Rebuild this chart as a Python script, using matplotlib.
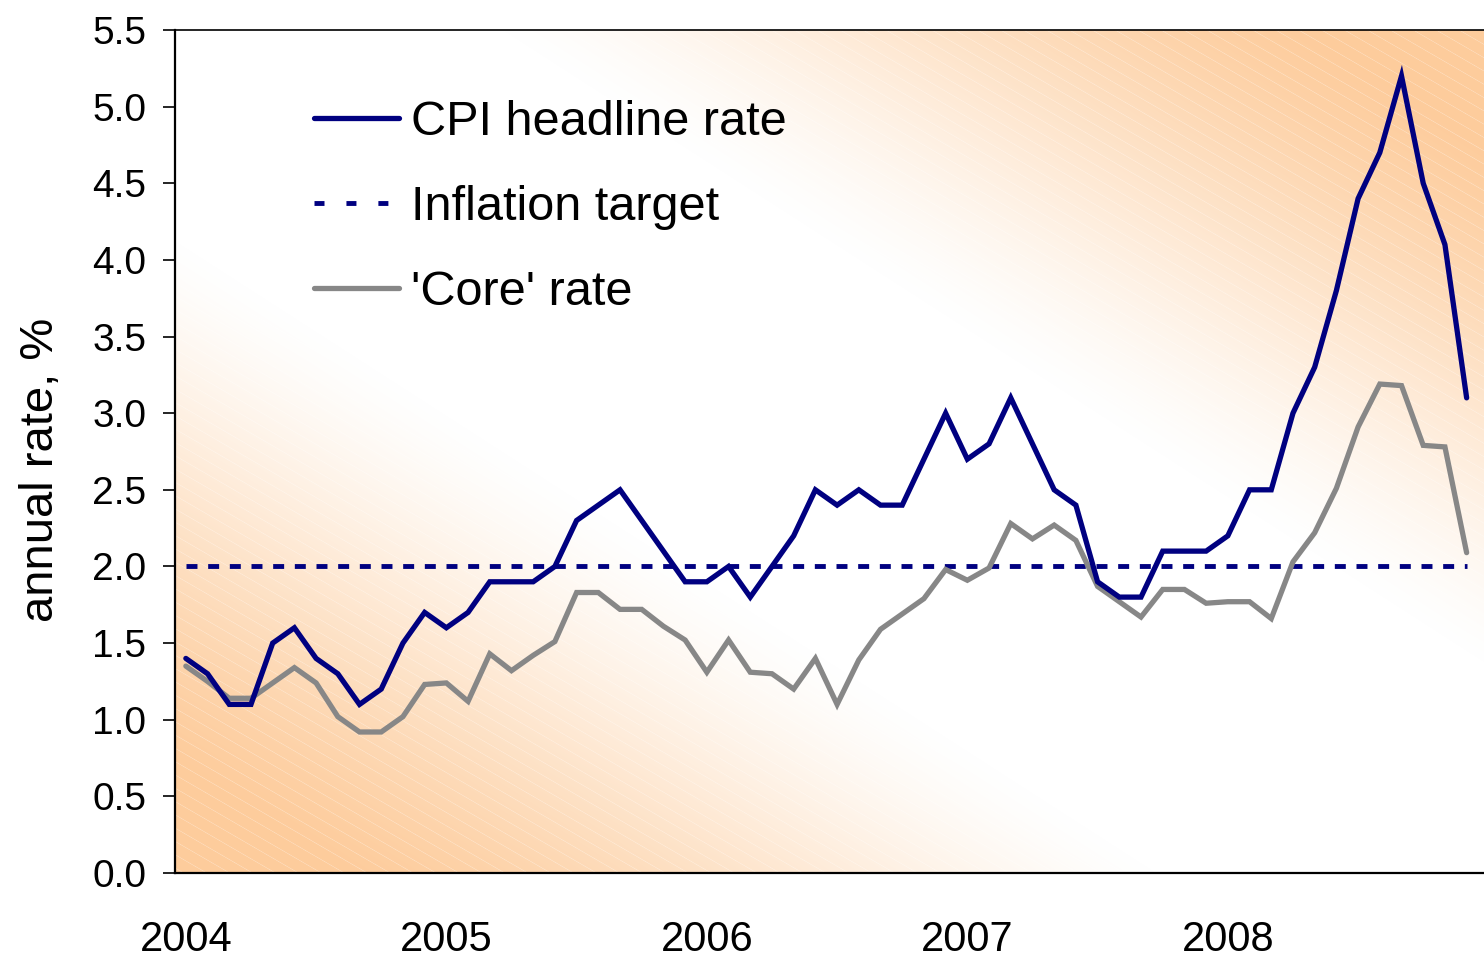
import numpy as np
import matplotlib
matplotlib.use("Agg")
import matplotlib.pyplot as plt
from matplotlib.lines import Line2D
from matplotlib.colors import to_rgb

plt.rcParams['font.family'] = ['Liberation Sans', 'DejaVu Sans']
plt.rcParams['lines.scale_dashes'] = False

# ---- data ----
year_labels = ["2004", "2005", "2006", "2007", "2008"]
headline = [1.4, 1.3, 1.1, 1.1, 1.5, 1.6, 1.4, 1.3, 1.1, 1.2, 1.5, 1.7,
            1.6, 1.7, 1.9, 1.9, 1.9, 2.0, 2.3, 2.4, 2.5, 2.3, 2.1, 1.9,
            1.9, 2.0, 1.8, 2.0, 2.2, 2.5, 2.4, 2.5, 2.4, 2.4, 2.7, 3.0,
            2.7, 2.8, 3.1, 2.8, 2.5, 2.4, 1.9, 1.8, 1.8, 2.1, 2.1, 2.1,
            2.2, 2.5, 2.5, 3.0, 3.3, 3.8, 4.4, 4.7, 5.2, 4.5, 4.1, 3.1]
core = [1.35, 1.25, 1.14, 1.14, 1.24, 1.34, 1.24, 1.02, 0.92, 0.92, 1.02, 1.23,
        1.24, 1.12, 1.43, 1.32, 1.42, 1.51, 1.83, 1.83, 1.72, 1.72, 1.61, 1.52,
        1.31, 1.52, 1.31, 1.30, 1.20, 1.40, 1.10, 1.39, 1.59, 1.69, 1.79, 1.98,
        1.91, 1.99, 2.28, 2.18, 2.27, 2.17, 1.87, 1.77, 1.67, 1.85, 1.85, 1.76,
        1.77, 1.77, 1.66, 2.03, 2.22, 2.51, 2.91, 3.19, 3.18, 2.79, 2.78, 2.09]
target_value = 2.0
target = [target_value] * len(headline)
months = np.arange(len(headline))

navy = "#000080"
grey = "#878787"
peach = "#FDCC9C"

W, H = 1484, 959
AX_L, AX_B_PX, AX_T_PX = 175, 873, 30
AW, AH = W - AX_L, AX_B_PX - AX_T_PX

fig = plt.figure(figsize=(W / 100, H / 100), dpi=100)
ax = fig.add_axes([AX_L / W, (H - AX_B_PX) / H, AW / W, AH / H])

# gradient background: peach at bottom-left & top-right corners, white across the middle
xp, yi = np.meshgrid(np.arange(AW) + 0.5, np.arange(AH) + 0.5)
xn = xp / AW
yn = 1.0 - yi / AH
t = np.abs(xn + yn - 1.0)
u = np.clip((t - 0.25) / 0.62, 0, 1)
inten = 0.5 * u + 0.5 * (u * u * (3 - 2 * u))
c1 = np.array(to_rgb(peach))
base = 1.0 - inten[..., None] * (1.0 - c1[None, None, :])
# faint white diagonal hatch
slope, spacing = 0.58, 13.3
c = yi - slope * xp
d = np.mod(c, spacing)
dist = np.minimum(d, spacing - d) / np.sqrt(1 + slope ** 2)
line = np.clip(1 - dist / 0.7, 0, 1) * 0.3
img = base + (1.0 - base) * line[..., None]
ax.imshow(img, extent=[0, 1, 0, 1], origin="upper", transform=ax.transAxes,
          aspect="auto", zorder=0, interpolation="nearest")

ax.plot(months, target, color=navy, lw=3.5, dashes=(7.9, 7.7),
        dash_capstyle="butt", zorder=3)
ax.plot(months, core, color=grey, lw=3.8, solid_joinstyle="miter",
        solid_capstyle="round", zorder=4)
ax.plot(months, headline, color=navy, lw=3.8, solid_joinstyle="miter",
        solid_capstyle="round", zorder=5)

ax.set_xlim(-0.5, 59.8)
ax.set_ylim(0, 5.5)
yt = np.arange(0, 5.51, 0.5)
ax.set_yticks(yt)
ax.set_yticklabels([f"{v:.1f}" for v in yt])
ax.set_xticks(months[::12])
ax.set_xticklabels(year_labels)

ax.tick_params(axis="y", length=8.6, width=1.2, pad=12, labelsize=28, colors="black")
ax.tick_params(axis="x", length=0, pad=34, labelsize=30)

for s in ["left", "bottom"]:
    ax.spines[s].set_linewidth(1.6)
ax.spines["top"].set_linewidth(1.2)
ax.spines["right"].set_visible(False)

ax.set_ylabel("annual rate, %", fontsize=34)
ax.yaxis.set_label_coords(-0.0856, 0.478)

handles = [
    Line2D([], [], color=navy, lw=3.8, solid_capstyle="round"),
    Line2D([], [], color=navy, lw=3.5, dashes=(7.2, 15.8), dash_capstyle="butt"),
    Line2D([], [], color=grey, lw=3.8, solid_capstyle="round"),
]
labels = ["CPI headline rate", "Inflation target", "'Core' rate"]
ax.legend(handles, labels, loc="upper left", bbox_to_anchor=(0.106, 0.917),
          frameon=False, fontsize=35, handlelength=1.75, handletextpad=0.25,
          labelspacing=0.82, borderpad=0, borderaxespad=0)

fig.savefig("out.png", dpi=100)
